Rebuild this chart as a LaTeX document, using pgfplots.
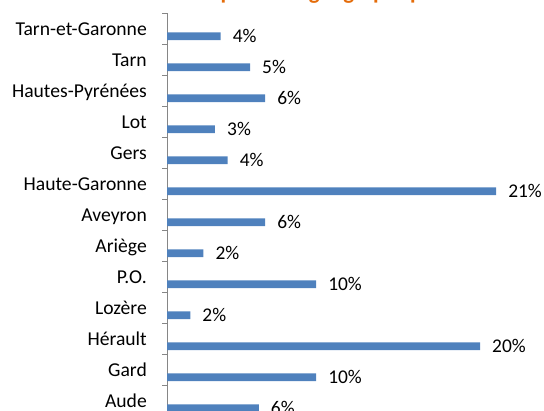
\documentclass[border=0pt]{standalone}
\usepackage{pgfplots}
\pgfplotsset{compat=1.18}
\usepackage{fontspec}
\setmainfont{Carlito}
\definecolor{barblue}{HTML}{4F81BD}
\definecolor{axgray}{HTML}{868686}
\definecolor{ttlorange}{HTML}{E46C0A}
\begin{document}
\begin{tikzpicture}
\begin{axis}[
  at={(167bp,-5bp)}, anchor=south west,
  scale only axis, width=367.7bp, height=403bp,
  xmin=0, xmax=24, ymin=-0.5, ymax=12.5,
  axis x line=none, axis y line*=left,
  y axis line style={axgray, line width=0.9bp},
  xbar, bar width=7.7bp, bar shift=-7.8bp,
  ytick={0,...,12},
  yticklabels={Aude,Gard,Hérault,Lozère,P.O.,Ariège,Aveyron,Haute-Garonne,Gers,Lot,Hautes-Pyrénées,Tarn,Tarn-et-Garonne},
  minor ytick={-0.5,0.5,...,12.5},
  major tick length=0pt, minor tick length=4.5bp, tick align=outside,
  tick style={axgray, line width=0.9bp},
  yticklabel style={font=\fontsize{19.7}{22}\selectfont, text=black, inner sep=0pt, anchor=base east, xshift=-20bp, yshift=-6.8bp},
  point meta=explicit symbolic,
  nodes near coords={\pgfplotspointmeta\%},
  nodes near coords style={font=\fontsize{19.5}{22}\selectfont, text=black, inner sep=0pt, anchor=base west, xshift=12bp, yshift=-6.5bp},
  clip=false,
]
\addplot[fill=barblue, draw=none] table[x=x, y=y, meta=label] {
y x label
12 3.505 4
11 5.42 5
10 6.40 6
9 3.13 3
8 3.96 4
7 21.48 21
6 6.40 6
5 2.37 2
4 9.73 10
3 1.52 2
2 20.43 20
1 9.73 10
0 5.99 6
};
\end{axis}
\node[anchor=base, font=\bfseries\fontsize{23}{28}\selectfont, text=ttlorange] at (318bp,411.5bp) {Répartition géographique};
\pgfresetboundingbox
\path[use as bounding box] (0bp,0bp) rectangle (544bp,411bp);
\end{tikzpicture}
\end{document}
